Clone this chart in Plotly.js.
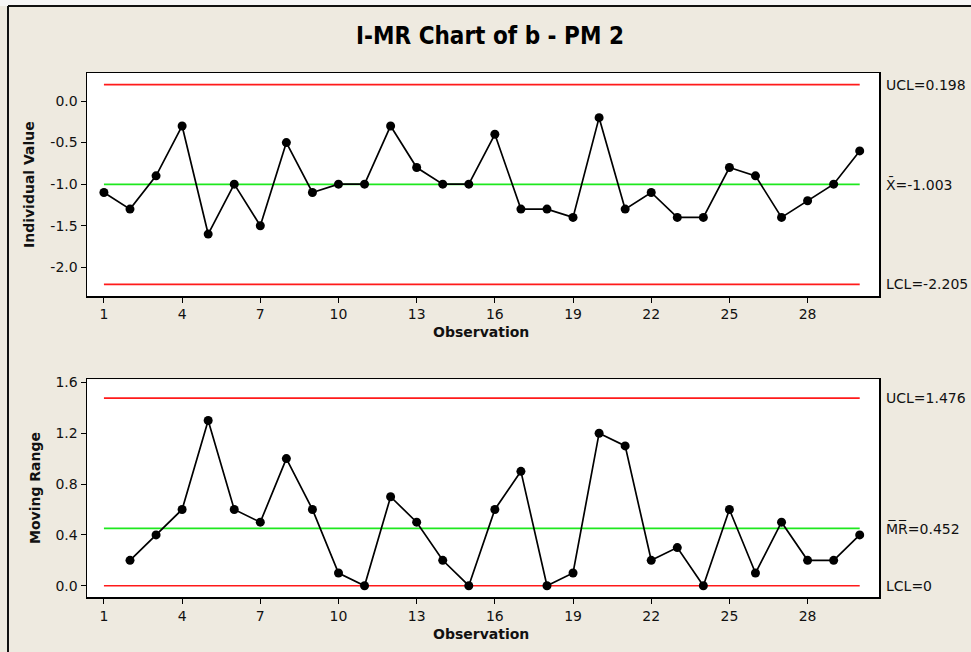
<!DOCTYPE html>
<html>
<head>
<meta charset="utf-8">
<script src="https://cdn.plot.ly/plotly-3.0.1.min.js"></script>
<style>
  html, body { margin: 0; padding: 0; background: #EEEAE0; }
  #chart { width: 971px; height: 652px; }
</style>
</head>
<body>
<div id="chart"></div>
<script>
// ---- data ----
const observations = [1,2,3,4,5,6,7,8,9,10,11,12,13,14,15,16,17,18,19,20,21,22,23,24,25,26,27,28,29,30];
const individualValues = [-1.1,-1.3,-0.9,-0.3,-1.6,-1.0,-1.5,-0.5,-1.1,-1.0,
                          -1.0,-0.3,-0.8,-1.0,-1.0,-0.4,-1.3,-1.3,-1.4,-0.2,
                          -1.3,-1.1,-1.4,-1.4,-0.8,-0.9,-1.4,-1.2,-1.0,-0.6];
const mrObservations = [2,3,4,5,6,7,8,9,10,11,12,13,14,15,16,17,18,19,20,21,22,23,24,25,26,27,28,29,30];
const movingRanges = [0.2,0.4,0.6,1.3,0.6,0.5,1.0,0.6,0.1,0.0,
                      0.7,0.5,0.2,0.0,0.6,0.9,0.0,0.1,1.2,1.1,
                      0.2,0.3,0.0,0.6,0.1,0.5,0.2,0.2,0.4];
const iLimits = { ucl: 0.198, center: -1.003, lcl: -2.205 };
const mrLimits = { ucl: 1.476, center: 0.452, lcl: 0 };
const limitSpan = [1, 30];
const xTickVals = [1,4,7,10,13,16,19,22,25,28];
const xTickText = ['1','4','7','10','13','16','19','22','25','28'];
const iTickVals = [0.0,-0.5,-1.0,-1.5,-2.0];
const iTickText = ['0.0','-0.5','-1.0','-1.5','-2.0'];
const mrTickVals = [0.0,0.4,0.8,1.2,1.6];
const mrTickText = ['0.0','0.4','0.8','1.2','1.6'];
const titleText = 'I-MR Chart of b - PM 2';
const iLabels = ['UCL=0.198', 'X\u0304=-1.003', 'LCL=-2.205'];
const mrLabels = ['UCL=1.476', 'M\u0305R\u0305=0.452', 'LCL=0'];

// ---- layout geometry (pixels) ----
const W = 971, H = 652;
const px = v => v / W;
const py = v => (H - v) / H;

const FONT = 'DejaVu Sans, Verdana, sans-serif';
const RED = '#FF1A1A', GREEN = '#1EE81E';

function limitTrace(val, color, xa, ya) {
  return { x: limitSpan, y: [val, val], xaxis: xa, yaxis: ya, mode: 'lines',
           line: { color: color, width: 1.7 }, hoverinfo: 'skip', showlegend: false };
}
function dataTrace(xs, ys, xa, ya) {
  return { x: xs, y: ys, xaxis: xa, yaxis: ya, mode: 'lines+markers',
           line: { color: '#000', width: 1.7 },
           marker: { color: '#000', size: 9 }, showlegend: false };
}

const traces = [
  limitTrace(iLimits.ucl, RED, 'x', 'y'),
  limitTrace(iLimits.lcl, RED, 'x', 'y'),
  limitTrace(iLimits.center, GREEN, 'x', 'y'),
  dataTrace(observations, individualValues, 'x', 'y'),
  limitTrace(mrLimits.ucl, RED, 'x2', 'y2'),
  limitTrace(mrLimits.lcl, RED, 'x2', 'y2'),
  limitTrace(mrLimits.center, GREEN, 'x2', 'y2'),
  dataTrace(mrObservations, movingRanges, 'x2', 'y2')
];

const xCommon = {
  range: [0.35, 30.74], tickmode: 'array', tickvals: xTickVals, ticktext: xTickText,
  ticks: 'outside', ticklen: 5, tickwidth: 1, tickcolor: '#000',
  showline: true, linecolor: '#000', linewidth: 1.5, mirror: true,
  showgrid: false, zeroline: false,
  tickfont: { family: FONT, size: 14, color: '#111' }
};
const yCommon = {
  ticks: 'outside', ticklen: 5, tickwidth: 1, tickcolor: '#000',
  showline: true, linecolor: '#000', linewidth: 1.5, mirror: true,
  showgrid: false, zeroline: false, tickmode: 'array',
  tickfont: { family: FONT, size: 14, color: '#111' }
};

const annotations = [];
function rightLabel(text, y, yref) {
  annotations.push({ text: text, xref: 'paper', x: px(884), yref: yref, y: y,
    xanchor: 'left', yanchor: 'middle', showarrow: false,
    font: { family: FONT, size: 14, color: '#111' } });
}
rightLabel(iLabels[0], iLimits.ucl, 'y');
rightLabel(iLabels[1], iLimits.center, 'y');
rightLabel(iLabels[2], iLimits.lcl, 'y');
rightLabel(mrLabels[0], mrLimits.ucl, 'y2');
rightLabel(mrLabels[1], mrLimits.center, 'y2');
rightLabel(mrLabels[2], mrLimits.lcl, 'y2');

function axisTitle(text, x, y, angle) {
  annotations.push({ text: '<b>' + text + '</b>', xref: 'paper', yref: 'paper',
    x: px(x), y: py(y), xanchor: 'center', yanchor: 'middle', textangle: angle,
    showarrow: false, font: { family: FONT, size: 14, color: '#111' } });
}
axisTitle('Individual Value', 29, 185, -90);
axisTitle('Moving Range', 35, 488, -90);
axisTitle('Observation', 481, 332, 0);
axisTitle('Observation', 481, 634, 0);

annotations.push({ text: '<b>' + titleText + '</b>', xref: 'paper', yref: 'paper',
  x: px(490), y: py(36), xanchor: 'center', yanchor: 'middle', showarrow: false,
  font: { family: 'DejaVu Sans Condensed, DejaVu Sans, sans-serif', size: 24, color: '#000' } });

const shapes = [
  // light strip above the frame
  { type: 'rect', xref: 'paper', yref: 'paper', x0: 0, x1: 1, y0: py(6), y1: 1,
    fillcolor: '#F6F6F6', line: { width: 0 }, layer: 'below' },
  // frame border (top and left)
  { type: 'line', xref: 'paper', yref: 'paper', x0: px(8), x1: 1, y0: py(6), y1: py(6),
    line: { color: '#111', width: 2 } },
  { type: 'line', xref: 'paper', yref: 'paper', x0: px(8), x1: px(8), y0: py(6), y1: 0,
    line: { color: '#111', width: 2 } }
];

const layout = {
  width: W, height: H,
  margin: { l: 0, r: 0, t: 0, b: 0 },
  paper_bgcolor: '#EEEAE0', plot_bgcolor: '#FFFFFF',
  showlegend: false,
  xaxis: Object.assign({}, xCommon, { domain: [px(87), px(879)], anchor: 'y' }),
  xaxis2: Object.assign({}, xCommon, { domain: [px(87), px(879)], anchor: 'y2' }),
  yaxis: Object.assign({}, yCommon, { domain: [py(296), py(73)], anchor: 'x',
    range: [-2.345, 0.337], tickvals: iTickVals, ticktext: iTickText }),
  yaxis2: Object.assign({}, yCommon, { domain: [py(597.3), py(379.3)], anchor: 'x2',
    range: [-0.091, 1.624], tickvals: mrTickVals, ticktext: mrTickText }),
  annotations: annotations,
  shapes: shapes
};

Plotly.newPlot('chart', traces, layout, { displayModeBar: false, staticPlot: true });
</script>
</body>
</html>
